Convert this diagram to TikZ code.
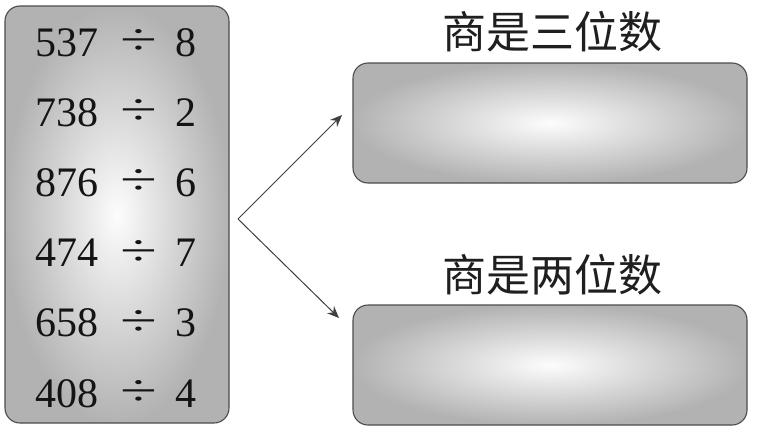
\documentclass[tikz,border=0pt]{standalone}
\usepackage{fontspec}
\setmainfont{Liberation Serif}
\newfontfamily\cjk{Noto Sans CJK SC}
\usetikzlibrary{arrows.meta}
\begin{document}
\begin{tikzpicture}[x=1pt,y=-1pt,
  panel/.style={draw=black!70, line width=1.1pt, rounded corners=15pt,
    inner color=black!1, outer color=black!30, inner sep=0pt, outer sep=0pt},
  num/.style={inner sep=0pt, text=black!92, font=\fontsize{42}{42}\selectfont},
  label/.style={inner sep=0pt, text=black!88, font=\cjk\fontsize{44}{44}\selectfont},
  link/.style={draw=black!75, line width=1pt, -{Stealth[length=12pt,width=10pt,inset=4pt]}}]
\useasboundingbox (0,0) rectangle (759,439);
\fill[white] (0,0) rectangle (759,439);
% panels
\node[panel, minimum width=224pt, minimum height=417pt] (left) at (117,214.5) {};
\node[panel, minimum width=394pt, minimum height=120pt] (top) at (550,123) {};
\node[panel, minimum width=394pt, minimum height=120pt] (bot) at (550,365) {};
% division rows
\foreach \a/\b [count=\i] in {537/8,738/2,876/6,474/7,658/3,408/4}{
  \pgfmathsetmacro{\yy}{56+70.2*(\i-1)}
  \node[num, anchor=base west] (a\i) at (35,\yy) {\a};
  \node[num, anchor=base] (d\i) at (139,\yy-1.5) {\scalebox{1.6}[1.05]{÷}};
  \node[num, anchor=base] (b\i) at (186,\yy) {\b};
}
% labels
\node[label] (lt) at (552,32) {商是三位数};
\node[label] (lb) at (552,275) {商是两位数};
% arrows
\coordinate (split) at (238,219);
\coordinate (tipt) at (342,115);
\coordinate (tipb) at (339,318);
\draw[link] (split) -- (tipt);
\draw[link] (split) -- (tipb);
\end{tikzpicture}
\end{document}
